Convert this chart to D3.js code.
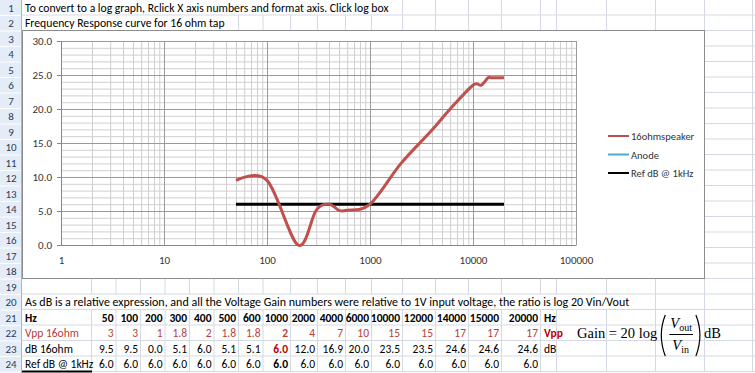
<!DOCTYPE html>
<html>
<head>
<meta charset="utf-8">
<script src="https://cdn.jsdelivr.net/npm/d3@7"></script>
<style>
body { margin: 0; background: #fff; }
svg { display: block; font-family: Carlito, Lato, "Open Sans", sans-serif; }
</style>
</head>
<body>
<div id="sheet"></div>
<script>
// sheet data
const freqs = [50, 100, 200, 300, 400, 500, 600, 1000, 2000, 4000, 6000, 10000, 12000, 14000, 15000, 20000];
const vpp16 = ['3', '3', '1', '1.8', '2', '1.8', '1.8', '2', '4', '7', '10', '15', '15', '17', '17', '17'];
const db16 = [9.5, 9.5, 0.0, 5.1, 6.0, 5.1, 5.1, 6.0, 12.0, 16.9, 20.0, 23.5, 23.5, 24.6, 24.6, 24.6];
const refDb = [6.0, 6.0, 6.0, 6.0, 6.0, 6.0, 6.0, 6.0, 6.0, 6.0, 6.0, 6.0, 6.0, 6.0, 6.0, 6.0];
const anodeDb = [];
const seriesNames = ['16ohmspeaker', 'Anode', 'Ref dB @ 1kHz'];
const yTicks = [0, 5, 10, 15, 20, 25, 30];
const xTicks = [1, 10, 100, 1000, 10000, 100000];
const note1 = 'To convert to a log graph, Rclick X axis numbers and format axis. Click log box';
const note2 = 'Frequency Response curve for 16 ohm tap';
const note20 = 'As dB is a relative expression, and all the Voltage Gain numbers were relative to 1V input voltage, the ratio is log 20 Vin/Vout';
const rowLabels = ['Hz', 'Vpp 16ohm', 'dB 16ohm', 'Ref dB @ 1kHz'];
const unitLabels = ['Hz', 'Vpp', 'dB', ''];

const width = 755;
const height = 373;
const rowH = 15.5;
const headerW = 22;
const colEdges = [22, 92, 116.5, 141, 165.5, 190, 214.5, 239, 263.5, 291, 318, 346, 372, 403, 436, 469, 502, 541, 557, 607, 656, 705, 753];
const cellFont = '11.5px';
const gridColor = '#d4d9e3';
const redText = '#b5413e';

const chartBox = { x: 22, y: 30, w: 683, h: 249 };
const x = d3.scaleLog().domain([1, 100000]).range([61, 576]);
const y = d3.scaleLinear().domain([0, 30]).range([245, 41]);

const svg = d3.select('#sheet').append('svg')
    .attr('width', width)
    .attr('height', height);

const rowTop = r => (r - 1) * rowH;
const rowBase = r => (r - 0.5) * rowH + 4;

// row headers
svg.append('rect')
    .attr('x', 0).attr('y', 0)
    .attr('width', headerW).attr('height', height)
    .attr('fill', '#e4ecf7');

for (let r = 1; r <= 24; r++) {
    svg.append('line')
        .attr('x1', 0).attr('x2', headerW)
        .attr('y1', rowTop(r + 1)).attr('y2', rowTop(r + 1))
        .attr('stroke', '#fff');
    svg.append('text')
        .attr('x', 11)
        .attr('y', rowBase(r))
        .attr('text-anchor', 'middle')
        .style('font-size', '11px')
        .attr('fill', '#2b3d58')
        .text(r);
}
svg.append('line')
    .attr('x1', headerW - 0.5).attr('x2', headerW - 0.5)
    .attr('y1', 0).attr('y2', height)
    .attr('stroke', '#9eb6ce');

const gridG = svg.append('g');
const textG = svg.append('g');

const cellText = (r, c, txt, opt = {}) => {
    const right = opt.align === 'right';
    return textG.append('text')
        .attr('x', right ? colEdges[c + 1] - 3 : colEdges[c] + 3)
        .attr('y', rowBase(r))
        .attr('text-anchor', right ? 'end' : 'start')
        .style('font-size', opt.size || cellFont)
        .style('font-weight', opt.bold ? 'bold' : 'normal')
        .attr('fill', opt.color || '#000')
        .text(txt);
};

// long notes that spill over the cells
const spill = {};
[[1, note1, '11.7px'], [2, note2, '11.7px'], [20, note20, '12px']].forEach(([r, t, fs]) => {
    const el = cellText(r, 0, t, { size: fs });
    const w = el.node().getComputedTextLength();
    spill[r] = colEdges[0] + 3 + w;
});

// table rows 21-24
rowLabels.forEach((lab, i) => {
    const r = 21 + i;
    cellText(r, 0, lab, { bold: i === 0, color: i === 1 ? redText : '#000' });
    freqs.forEach((f, j) => {
        let val, bold = false, color = '#000';
        if (i === 0) { val = f; bold = true; }
        if (i === 1) { val = vpp16[j]; color = redText; bold = f === 1000; }
        if (i === 2) { val = db16[j].toFixed(1); if (f === 1000) { bold = true; color = '#c00000'; } }
        if (i === 3) { val = refDb[j].toFixed(1); bold = f === 1000; }
        cellText(r, j + 1, val, { align: 'right', bold: bold, color: color });
    });
    if (unitLabels[i]) {
        cellText(r, 17, unitLabels[i], { bold: i < 2, color: i === 1 ? '#c00000' : '#000' });
    }
});

// sheet gridlines
for (let r = 1; r <= 24; r++) {
    const inChart = r >= 3 && r <= 18;
    gridG.append('line')
        .attr('x1', inChart || r === 2 ? chartBox.x + chartBox.w : headerW)
        .attr('x2', width)
        .attr('y1', rowTop(r + 1) - 0.5).attr('y2', rowTop(r + 1) - 0.5)
        .attr('stroke', gridColor);
    colEdges.slice(1).forEach(e => {
        if (inChart && e <= chartBox.x + chartBox.w) return;
        if (spill[r] && e < spill[r] + 2) return;
        gridG.append('line')
            .attr('x1', e - 0.5).attr('x2', e - 0.5)
            .attr('y1', rowTop(r)).attr('y2', rowTop(r + 1))
            .attr('stroke', gridColor);
    });
}

// selection border under A24
svg.append('line')
    .attr('x1', colEdges[0]).attr('x2', colEdges[1])
    .attr('y1', 371.5).attr('y2', 371.5)
    .attr('stroke', '#000').attr('stroke-width', 2);

// chart
const chart = svg.append('g');
chart.append('rect')
    .attr('x', chartBox.x + 0.5).attr('y', chartBox.y + 0.5)
    .attr('width', chartBox.w - 1).attr('height', chartBox.h - 1)
    .attr('fill', '#fff')
    .attr('stroke', '#8c8c8c');

const plotH = y(0) - y(30);
const plotW = x(100000) - x(1);
const minorX = [];
for (let d = 1; d < 100000; d *= 10) {
    for (let k = 2; k < 10; k++) minorX.push(k * d);
}
const minorY = d3.range(0, 31).filter(v => v % 5 !== 0);

const gridAxis = (axis, vals, color, tr) => {
    chart.append('g')
        .attr('transform', tr)
        .call(axis.tickValues(vals).tickFormat(''))
        .call(g => g.select('.domain').remove())
        .call(g => g.selectAll('.tick line').attr('stroke', color));
};
gridAxis(d3.axisBottom(x).tickSize(-plotH), minorX, '#cfcfcf', `translate(0,${y(0)})`);
gridAxis(d3.axisLeft(y).tickSize(-plotW), minorY, '#cfcfcf', `translate(${x(1)},0)`);
gridAxis(d3.axisBottom(x).tickSize(-plotH), xTicks, '#9a9a9a', `translate(0,${y(0)})`);
gridAxis(d3.axisLeft(y).tickSize(-plotW), yTicks, '#9a9a9a', `translate(${x(1)},0)`);

// y axis
chart.append('g')
    .attr('transform', `translate(${x(1)},0)`)
    .call(d3.axisLeft(y).tickValues(yTicks).tickFormat(d3.format('.1f')).tickSize(4).tickPadding(5))
    .call(g => g.select('.domain').attr('stroke', '#868686'))
    .call(g => g.selectAll('.tick line').attr('stroke', '#868686'))
    .call(g => g.selectAll('.tick text')
        .style('font-size', '11px')
        .style('font-family', 'Carlito, Lato, sans-serif')
        .attr('fill', '#333'));

// x axis
chart.append('g')
    .attr('transform', `translate(0,${y(0)})`)
    .call(d3.axisBottom(x).tickValues(xTicks).tickFormat(d3.format('d')).tickSize(0).tickPadding(11))
    .call(g => g.select('.domain').attr('stroke', '#868686'))
    .call(g => g.selectAll('.tick text')
        .style('font-size', '11px')
        .style('font-family', 'Carlito, Lato, sans-serif')
        .attr('fill', '#333'));

const line = d3.line()
    .x(d => x(d.f))
    .y(d => y(d.v))
    .curve(d3.curveCardinal);

const seriesData = [
    { name: seriesNames[0], color: '#c0504d', values: freqs.map((f, i) => ({ f: f, v: db16[i] })) },
    { name: seriesNames[1], color: '#4bacc6', values: anodeDb },
    { name: seriesNames[2], color: '#000', values: freqs.map((f, i) => ({ f: f, v: refDb[i] })) }
];

seriesData.slice().reverse().forEach(s => {
    if (!s.values.length) return;
    chart.append('path')
        .datum(s.values)
        .attr('d', line)
        .attr('fill', 'none')
        .attr('stroke', s.color)
        .attr('stroke-width', 3)
        .attr('stroke-linejoin', 'round');
});

// legend
const legend = chart.append('g').attr('transform', 'translate(608,136)');
seriesData.forEach((s, i) => {
    const lg = legend.append('g').attr('transform', `translate(0,${i * 18.5})`);
    lg.append('line')
        .attr('x1', 0).attr('x2', 21)
        .attr('stroke', s.color)
        .attr('stroke-width', 2);
    lg.append('text')
        .attr('x', 23).attr('y', 4)
        .style('font-size', '10.5px')
        .attr('fill', '#333')
        .text(s.name);
});

// formula picture
const fg = svg.append('g').style('font-family', '"Liberation Serif", "DejaVu Serif", serif').attr('fill', '#000');
const gainText = fg.append('text')
    .attr('x', 577).attr('y', 338)
    .style('font-size', '14.5px')
    .text('Gain = 20 log');
let fx = 577 + gainText.node().getComputedTextLength() + 3;
const paren = (x0, dir) => `M${x0},315 Q${x0 - dir * 8},335 ${x0},356`;
fg.append('path').attr('d', paren(fx + 5, 1)).attr('fill', 'none').attr('stroke', '#000').attr('stroke-width', 1.2);
fx += 9;
const num = fg.append('text').attr('x', fx + 1).attr('y', 328).style('font-size', '14.5px');
num.append('tspan').style('font-style', 'italic').text('V');
num.append('tspan').attr('dy', 3).style('font-size', '10px').text('out');
const den = fg.append('text').attr('x', fx + 3).attr('y', 350).style('font-size', '14.5px');
den.append('tspan').style('font-style', 'italic').text('V');
den.append('tspan').attr('dy', 3).style('font-size', '10px').text('in');
const fracW = num.node().getComputedTextLength() + 2;
fg.append('line')
    .attr('x1', fx).attr('x2', fx + fracW)
    .attr('y1', 334.5).attr('y2', 334.5)
    .attr('stroke', '#000');
fx += fracW + 3;
fg.append('path').attr('d', paren(fx, -1)).attr('fill', 'none').attr('stroke', '#000').attr('stroke-width', 1.2);
fg.append('text')
    .attr('x', fx + 8).attr('y', 338)
    .style('font-size', '14.5px')
    .text('dB');
</script>
</body>
</html>
